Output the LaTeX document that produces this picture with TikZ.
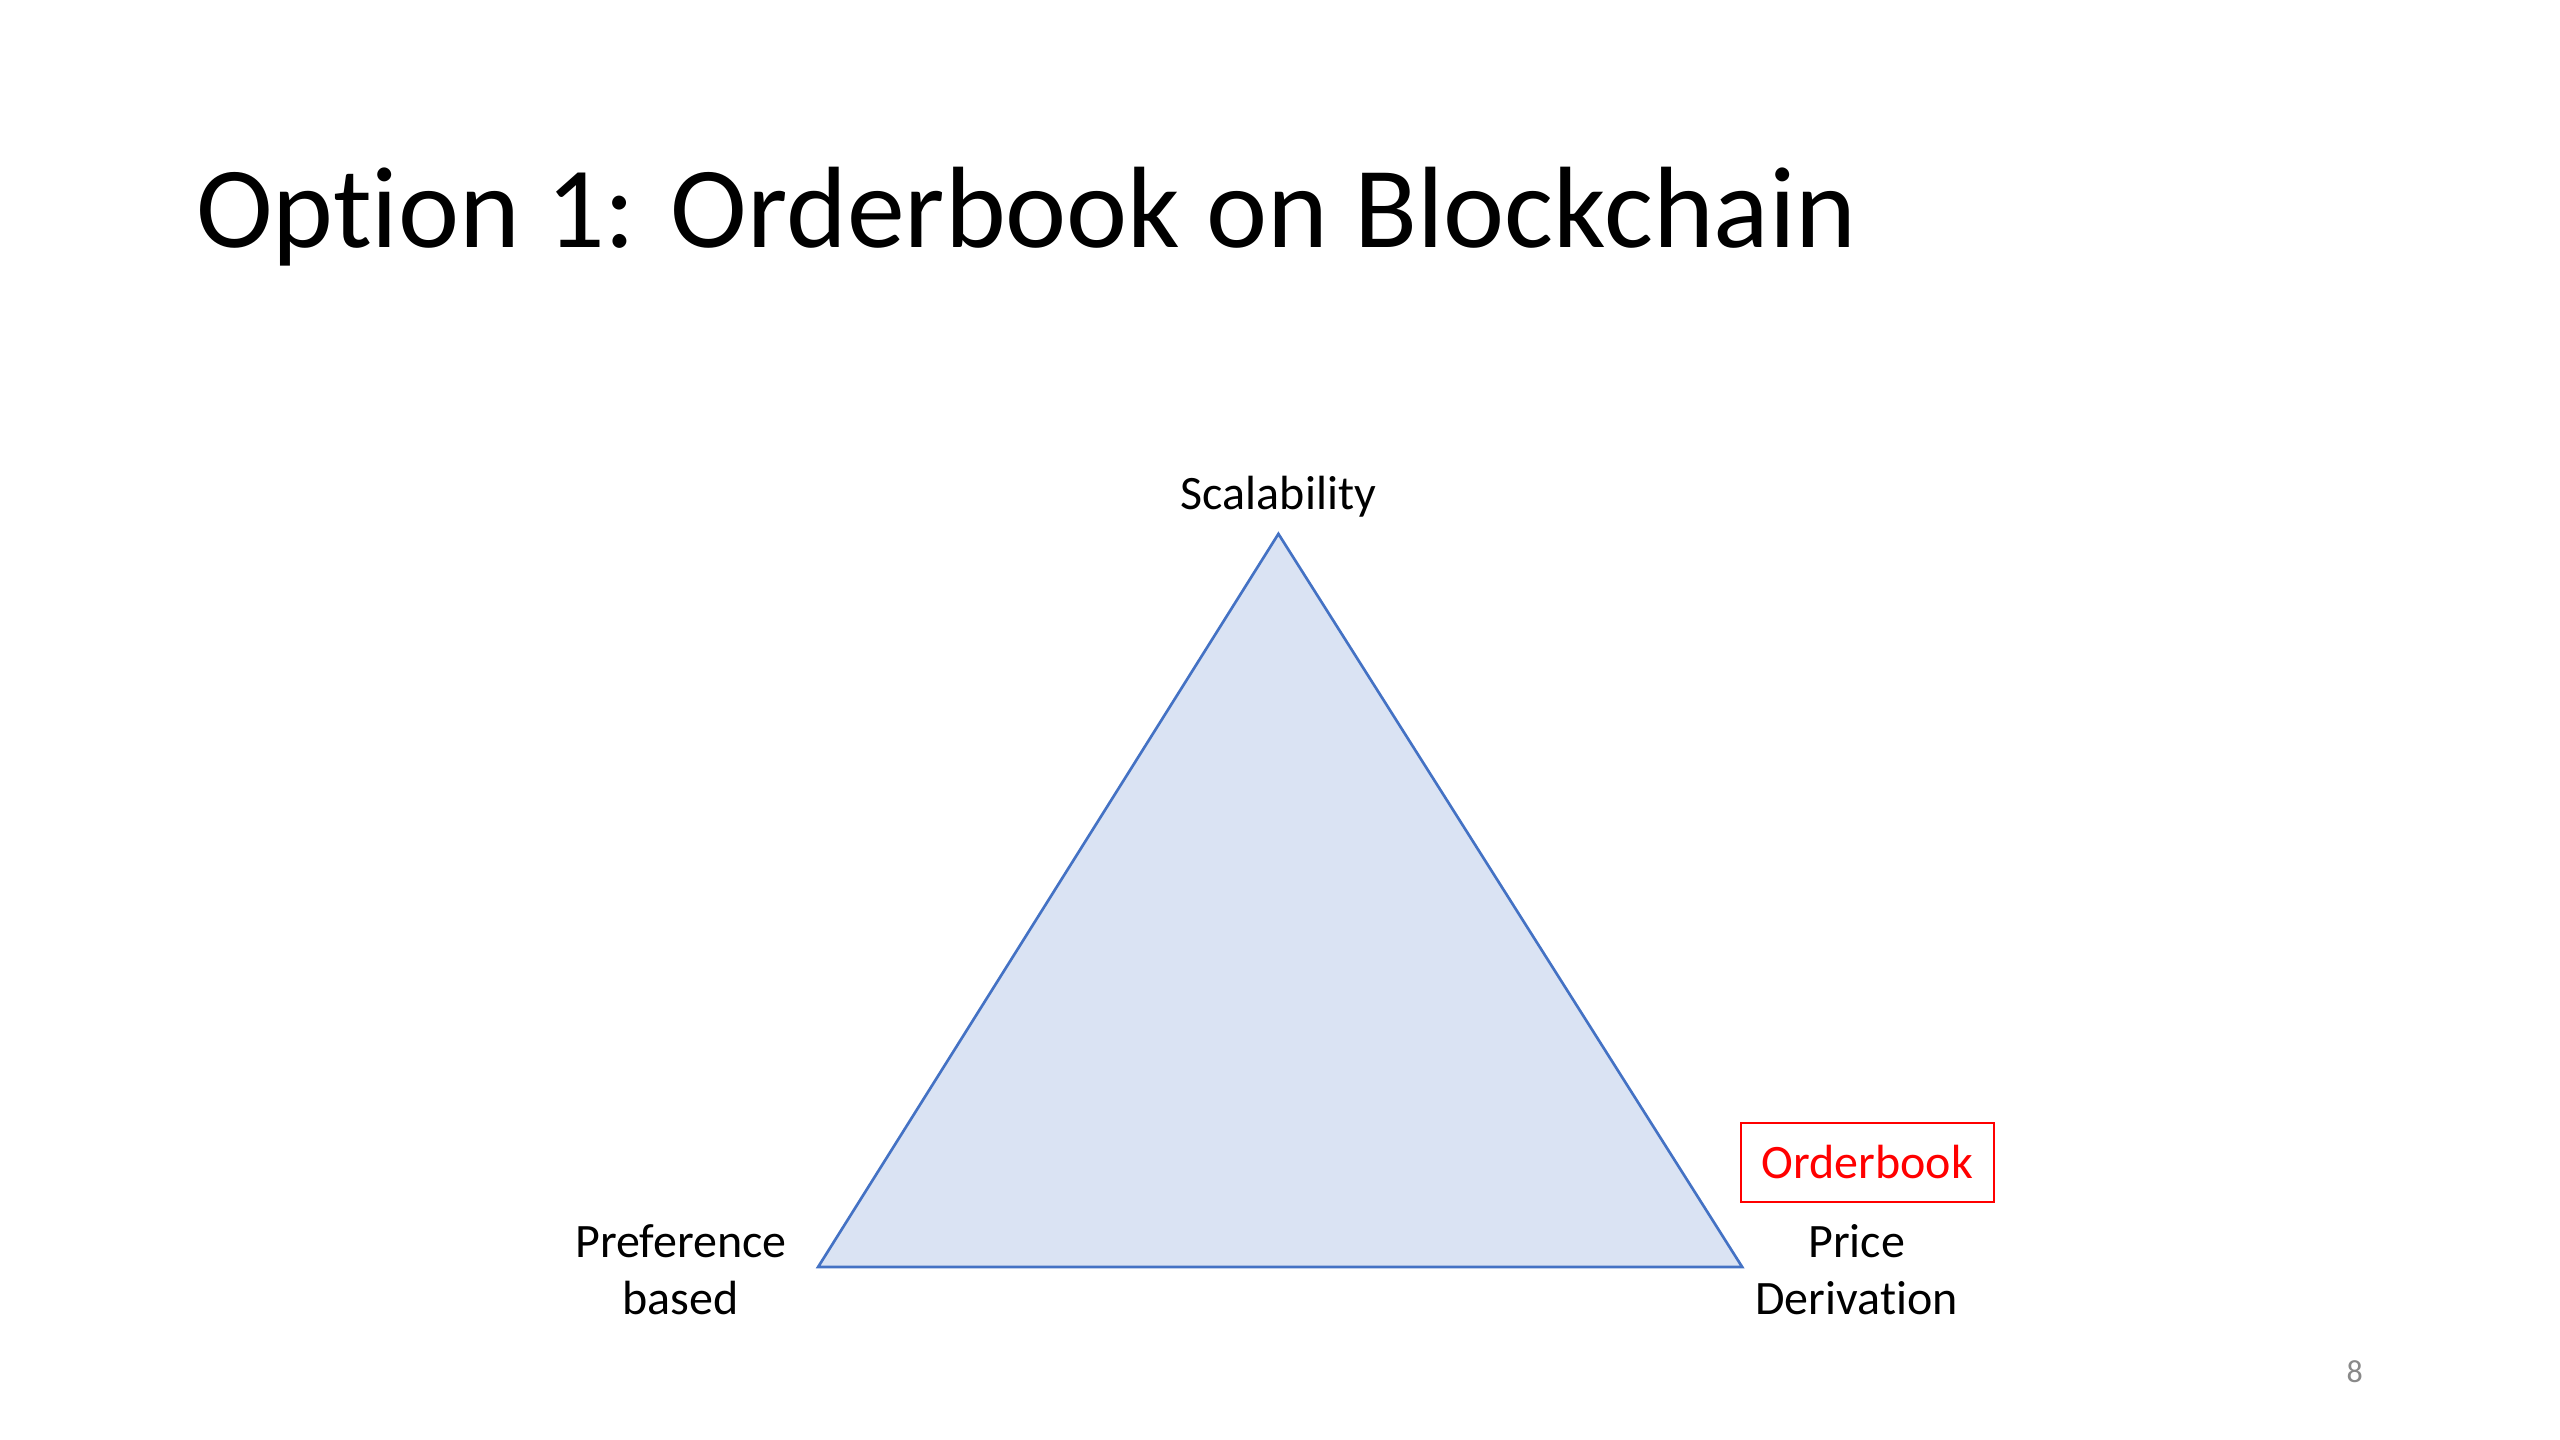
\documentclass[tikz,border=0pt]{standalone}
\usepackage{fontspec}
\setmainfont{Carlito}[Ligatures=NoCommon]
\definecolor{trifill}{HTML}{DAE3F3}
\definecolor{triline}{HTML}{4472C4}
\definecolor{pagegray}{HTML}{898989}
\begin{document}
\begin{tikzpicture}[x=1pt,y=-1pt,
  lbl/.style={inner sep=0pt, align=center, font=\fontsize{18}{21.6}\selectfont},
  redbox/.style={draw=red, line width=0.75pt, text=red, inner sep=0pt,
    minimum width=95pt, minimum height=29.4pt, font=\fontsize{18}{21.6}\selectfont}]
\useasboundingbox (0,0) rectangle (960,540);
\node[anchor=base west, inner sep=0pt, font=\fontsize{43.4}{52}\selectfont] (title) at (73.4,93.0) {Option 1: Orderbook on Blockchain};
\coordinate (top) at (479.4,200.2);
\coordinate (bl) at (306.8,475.1);
\coordinate (br) at (653.3,475.1);
\draw[fill=trifill, draw=triline, line width=1pt, line join=miter] (top) -- (br) -- (bl) -- cycle;
\node[lbl, anchor=base] (scal) at (479.4,191.0) {Scalability};
\node[lbl, anchor=base] (pref) at (255.3,493.0) {Preference\\based};
\node[lbl, anchor=base] (price) at (696.2,493.0) {Price\\Derivation};
\node[redbox] (ob) at (700.2,435.9) {Orderbook};
\node[inner sep=0pt, anchor=base, text=pagegray, font=\fontsize{12}{14}\selectfont] (pg) at (883,518.5) {8};
\end{tikzpicture}
\end{document}
